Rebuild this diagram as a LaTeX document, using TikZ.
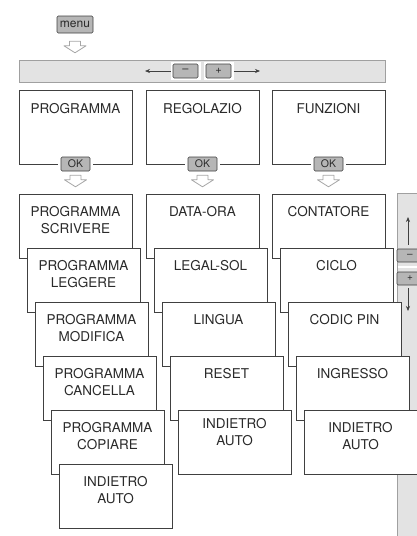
\documentclass[tikz,border=0pt]{standalone}
\usepackage{fontspec}
\setmainfont{TeX Gyre Heros}
\usetikzlibrary{arrows.meta}
\definecolor{bordc}{HTML}{404040}
\definecolor{txtc}{HTML}{2A2A2A}
\definecolor{barc}{HTML}{E3E3E3}
\definecolor{barb}{HTML}{A0A0A0}
\definecolor{btnc}{HTML}{B6B6B6}
\definecolor{arrc}{HTML}{A6A6A6}
\begin{document}
\begin{tikzpicture}[x=1pt,y=-1pt,
 box/.style={draw=bordc, fill=white, line width=0.8pt, anchor=north west, minimum width=113pt, minimum height=64pt, inner sep=0pt, outer sep=0pt},
 topbox/.style={box, minimum height=74pt},
 lbl/.style={anchor=north, inner sep=0pt, align=center, text=txtc, font=\fontsize{13.5}{17}\selectfont},
 btn/.style={draw=bordc, fill=btnc, rounded corners=1.2pt, line width=0.6pt, inner sep=0pt, text=txtc},
 halo/.style={fill=white, inner sep=0pt, outer sep=0pt},
 barstyle/.style={fill=barc, draw=barb, line width=0.8pt, inner sep=0pt, outer sep=0pt},
 thinarr/.style={-{Stealth[length=5pt,width=4pt]}, line width=0.6pt, draw=bordc},
 harrow/.pic={\draw[draw=arrc, fill=white, line width=0.8pt, line join=round] (-5.5,0) -- (5.5,0) -- (5.5,4.5) -- (11,4.5) -- (0,11.5) -- (-11,4.5) -- (-5.5,4.5) -- cycle;}
]
\useasboundingbox (0,0) rectangle (417,536);
\begin{scope}
\clip (0,0) rectangle (417,536);
% menu button
\node[btn, minimum width=36pt, minimum height=17pt, font=\fontsize{12}{12}\selectfont] (menu) at (75,24.5) {menu};
\pic at ([yshift=-8pt]menu.south) {harrow};
% top bar
\node[barstyle, anchor=north west, minimum width=366pt, minimum height=22pt] (topbar) at (19,60) {};
\node[halo, minimum width=30pt, minimum height=18pt] (hm) at (185.5,71) {};
\node[halo, minimum width=30pt, minimum height=18pt] (hp) at (218.5,71) {};
\node[btn, minimum width=25pt, minimum height=14pt, font=\fontsize{11}{11}\selectfont] (bm) at (185.5,71) {–};
\node[btn, minimum width=25pt, minimum height=14pt, font=\fontsize{11}{11}\selectfont] (bp) at (218.5,71) {+};
\coordinate (lt) at (145,71);
\coordinate (rt) at (260,71);
\draw[thinarr] (hm.west) -- (lt);
\draw[thinarr] (hp.east) -- (rt);
% side bar
\fill[barc] (397,193) rectangle (420,540);
\draw[barb, line width=0.8pt] (420,193) -- (397,193) -- (397,540);
\node[btn, minimum width=26pt, minimum height=13pt, font=\fontsize{10}{10}\selectfont] (sm) at (410,255.5) {–};
\node[btn, minimum width=26pt, minimum height=13pt, font=\fontsize{10}{10}\selectfont] (sp) at (410,278.5) {+};
\draw[white, line width=1.5pt] (397.5,267) -- (420,267);
\coordinate (su) at (408,217);
\coordinate (sd) at (408,311);
\draw[thinarr] ([xshift=-2pt,yshift=4pt]sm.north) -- (su);
\draw[thinarr] ([xshift=-2pt,yshift=-3pt]sp.south) -- (sd);
% top boxes
\node[topbox] (t1) at (19,90) {};
\node[topbox] (t2) at (146,90) {};
\node[topbox] (t3) at (272,90) {};
\node[lbl] at ([yshift=-13pt]t1.north) {PROGRAMMA};
\node[lbl] at ([yshift=-13pt]t2.north) {REGOLAZIO};
\node[lbl] at ([yshift=-13pt]t3.north) {FUNZIONI};
\foreach \t/\n in {t1/o1,t2/o2,t3/o3}{
 \node[halo, minimum width=35pt, minimum height=18pt] at (\t.south) {};
 \node[btn, minimum width=29pt, minimum height=14pt, font=\fontsize{10.5}{10.5}\selectfont] (\n) at (\t.south) {OK};
 \pic at ([yshift=-4pt]\n.south) {harrow};
}
% column 1
\node[box] (p1) at (19,194) {};
\node[lbl] at ([yshift=-12pt]p1.north) {PROGRAMMA\\SCRIVERE};
\node[box] (p2) at (27,248) {};
\node[lbl] at ([yshift=-12pt]p2.north) {PROGRAMMA\\LEGGERE};
\node[box] (p3) at (35,302) {};
\node[lbl] at ([yshift=-12pt]p3.north) {PROGRAMMA\\MODIFICA};
\node[box] (p4) at (43,356) {};
\node[lbl] at ([yshift=-12pt]p4.north) {PROGRAMMA\\CANCELLA};
\node[box] (p5) at (51,410) {};
\node[lbl] at ([yshift=-12pt]p5.north) {PROGRAMMA\\COPIARE};
\node[box] (p6) at (59,464) {};
\node[lbl] at ([yshift=-12pt]p6.north) {INDIETRO\\AUTO};
% column 2
\node[box] (d1) at (146,194) {};
\node[lbl] at ([yshift=-12pt]d1.north) {DATA-ORA};
\node[box] (d2) at (154,248) {};
\node[lbl] at ([yshift=-12pt]d2.north) {LEGAL-SOL};
\node[box] (d3) at (162,302) {};
\node[lbl] at ([yshift=-12pt]d3.north) {LINGUA};
\node[box] (d4) at (170,356) {};
\node[lbl] at ([yshift=-12pt]d4.north) {RESET};
\node[box] (d5) at (178,410) {};
\node[lbl] at ([yshift=-8pt]d5.north) {INDIETRO\\AUTO};
% column 3
\node[box] (f1) at (272,194) {};
\node[lbl] at ([yshift=-12pt]f1.north) {CONTATORE};
\node[box] (f2) at (280,248) {};
\node[lbl] at ([yshift=-12pt]f2.north) {CICLO};
\node[box] (f3) at (288,302) {};
\node[lbl] at ([yshift=-12pt]f3.north) {CODIC PIN};
\node[box] (f4) at (296,356) {};
\node[lbl] at ([yshift=-12pt]f4.north) {INGRESSO};
\node[box] (f5) at (304,410) {};
\node[lbl] at ([yshift=-12pt]f5.north) {INDIETRO\\AUTO};
\end{scope}
\end{tikzpicture}
\end{document}
